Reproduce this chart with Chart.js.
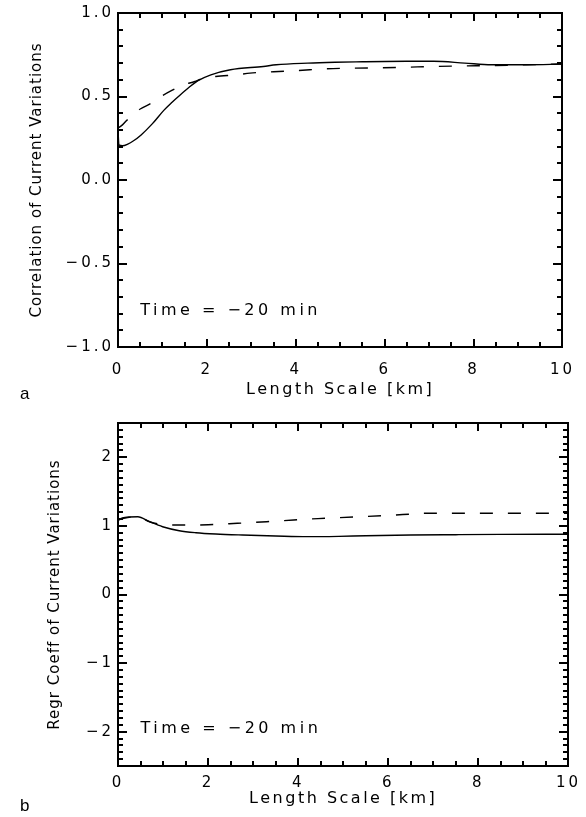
<!DOCTYPE html>
<html><head><meta charset="utf-8">
<script src="https://cdn.jsdelivr.net/npm/chart.js@4.4.1/dist/chart.umd.min.js"></script>
<style>
html,body{margin:0;padding:0;background:#fff;}
#wrap{position:relative;width:586px;height:817px;overflow:hidden;}
.box{position:absolute;left:0;width:586px;}
</style></head><body>
<div id="wrap">
<div class="box" style="top:0;height:405px"><canvas id="ca" width="586" height="405"></canvas></div>
<div class="box" style="top:405px;height:412px"><canvas id="cb" width="586" height="412"></canvas></div>
</div>
<script>
// ---- tick values and labels ----
const xTickValues = [0, 2, 4, 6, 8, 10];
const xTickLabels = ['0', '2', '4', '6', '8', '10'];
const corrTickValues = [-1, -0.5, 0, 0.5, 1];
const corrTickLabels = ['\u22121.0', '\u22120.5', '0.0', '0.5', '1.0'];
const regrTickValues = [-2, -1, 0, 1, 2];
const regrTickLabels = ['\u22122', '\u22121', '0', '1', '2'];
const xMinorStep = 0.5;
const yMinorStep = 0.1;

// ---- panel a: correlation ----
const corrSolidX = [0, 0.02, 0.1, 0.22, 0.35, 0.52, 0.77, 1.03, 1.21, 1.36, 1.6, 1.8, 2.09, 2.53, 3.27, 3.56, 4.27, 4.88, 5.5, 6.0, 6.5, 7.1, 7.8, 8.4, 9.2, 10];
const corrSolidY = [0.30, 0.21, 0.205, 0.215, 0.235, 0.27, 0.336, 0.417, 0.464, 0.50, 0.555, 0.595, 0.63, 0.66, 0.68, 0.69, 0.70, 0.705, 0.708, 0.71, 0.711, 0.711, 0.70, 0.69, 0.69, 0.694];
const corrDashX = [0, 0.1, 0.26, 0.5, 0.75, 1.0, 1.2, 1.47, 1.73, 1.87, 2.2, 2.68, 2.97, 3.5, 4.07, 4.69, 5.33, 5.94, 6.56, 7.2, 7.81, 8.44, 9.07, 9.75, 10];
const corrDashY = [0.31, 0.33, 0.375, 0.425, 0.46, 0.505, 0.535, 0.57, 0.59, 0.605, 0.62, 0.63, 0.64, 0.648, 0.656, 0.666, 0.67, 0.672, 0.676, 0.68, 0.683, 0.685, 0.689, 0.693, 0.695];

// ---- panel b: regression coefficient ----
const regrSolidX = [0, 0.1, 0.25, 0.44, 0.7, 0.99, 1.36, 1.73, 2.17, 2.76, 3.5, 4.2, 4.9, 5.5, 6.5, 7.5, 8.5, 10];
const regrSolidY = [1.086, 1.115, 1.13, 1.134, 1.061, 0.988, 0.93, 0.901, 0.882, 0.867, 0.853, 0.843, 0.848, 0.857, 0.867, 0.872, 0.876, 0.878];
const regrDashX = [0, 0.15, 0.44, 0.7, 0.9, 1.3, 1.6, 2.0, 2.65, 3.3, 3.9, 4.1, 4.6, 5.25, 5.85, 6.45, 6.7, 7.5, 8.5, 10];
const regrDashY = [1.086, 1.115, 1.134, 1.061, 1.028, 1.013, 1.013, 1.017, 1.038, 1.061, 1.086, 1.096, 1.111, 1.13, 1.149, 1.169, 1.184, 1.184, 1.184, 1.184];

const xTitle = 'Length Scale [km]';
const corrTitle = 'Correlation of Current Variations';
const regrTitle = 'Regr Coeff of Current Variations';
const timeNote = 'Time = \u221220 min';

Chart.defaults.font.family = "'DejaVu Sans', sans-serif";
Chart.defaults.color = '#000';

const SPACING = {ticks: '3px', xTitle: '2.5px', yTitle: '1px'};

const spacingPlugin = {
  id: 'spacing',
  afterLayout(chart) {
    Object.values(chart.scales).forEach(s => {
      if (s._spWrapped) return;
      s._spWrapped = true;
      const dl = s.drawLabels.bind(s), dt = s.drawTitle.bind(s);
      s.drawLabels = (a) => { const c = s.ctx; c.letterSpacing = SPACING.ticks; dl(a); c.letterSpacing = '0px'; };
      s.drawTitle = (a) => { const c = s.ctx; c.letterSpacing = s.axis === 'x' ? SPACING.xTitle : SPACING.yTitle; dt(a); c.letterSpacing = '0px'; };
    });
  }
};

function makeFramePlugin(cfg) {
  return {
    id: 'frame',
    afterDraw(chart) {
      const ctx = chart.ctx, a = chart.chartArea;
      const xs = chart.scales.x, ys = chart.scales.y;
      ctx.save();
      ctx.fillStyle = '#000';
      const L = Math.round(a.left), R = Math.round(a.right), T = Math.round(a.top), B = Math.round(a.bottom);
      ctx.fillRect(L - 1, T - 1, R - L + 2, 2);
      ctx.fillRect(L - 1, B - 1, R - L + 2, 2);
      ctx.fillRect(L - 1, T - 1, 2, B - T + 2);
      ctx.fillRect(R - 1, T - 1, 2, B - T + 2);
      const nx = Math.round((cfg.xMax - cfg.xMin) / xMinorStep);
      for (let i = 0; i <= nx; i++) {
        const v = cfg.xMin + i * xMinorStep;
        const px = Math.round(xs.getPixelForValue(v));
        const major = xTickValues.some(m => Math.abs(m - v) < 1e-6);
        const len = major ? 8 : 5;
        ctx.fillRect(px - 1, B - len, 2, len);
        ctx.fillRect(px - 1, T, 2, len);
      }
      const ny = Math.round((cfg.yMax - cfg.yMin) / yMinorStep);
      for (let i = 0; i <= ny; i++) {
        const v = cfg.yMin + i * yMinorStep;
        const py = Math.round(ys.getPixelForValue(v));
        const major = cfg.yTicks.some(m => Math.abs(m - v) < 1e-6);
        const len = major ? 9 : 5;
        ctx.fillRect(L, py - 1, len, 2);
        ctx.fillRect(R - len, py - 1, len, 2);
      }
      ctx.letterSpacing = '3.5px';
      ctx.font = "16px 'DejaVu Sans'";
      ctx.textAlign = 'left';
      ctx.textBaseline = 'middle';
      ctx.fillText(timeNote, xs.getPixelForValue(cfg.noteAt[0]), ys.getPixelForValue(cfg.noteAt[1]));
      ctx.letterSpacing = '0px';
      ctx.font = "17px 'Liberation Sans'";
      ctx.fillText(cfg.panel, cfg.panelPos[0], cfg.panelPos[1]);
      ctx.restore();
    }
  };
}

function makeChart(id, H, areaBottom, cfg) {
  const toXY = (xv, yv) => xv.map((v, i) => ({x: v, y: yv[i]}));
  return new Chart(document.getElementById(id), {
    type: 'line',
    data: {
      datasets: [
        {data: toXY(cfg.solidX, cfg.solidY), borderColor: '#000', borderWidth: 1.4, pointRadius: 0, cubicInterpolationMode: 'monotone', fill: false},
        {data: toXY(cfg.dashX, cfg.dashY), borderColor: '#000', borderWidth: 1.4, borderDash: [13, 15], pointRadius: 0, cubicInterpolationMode: 'monotone', fill: false}
      ]
    },
    options: {
      responsive: false, animation: false, devicePixelRatio: 1,
      layout: {padding: {top: cfg.top, right: 13, left: 0, bottom: 0}},
      plugins: {legend: {display: false}, tooltip: {enabled: false}},
      scales: {
        x: {
          type: 'linear', position: 'bottom', min: cfg.xMin, max: cfg.xMax,
          afterBuildTicks: s => { s.ticks = xTickValues.map(v => ({value: v})); },
          afterFit: s => { s.height = H - areaBottom; },
          grid: {display: false, drawTicks: false}, border: {display: false},
          ticks: {font: {size: 15}, padding: cfg.xPad, maxRotation: 0, autoSkip: false,
                  callback: v => xTickLabels[xTickValues.indexOf(v)]},
          title: {display: true, text: xTitle, font: {size: 16}, padding: {top: 0, bottom: cfg.xTitlePad}}
        },
        y: {
          type: 'linear', position: 'left', min: cfg.yMin, max: cfg.yMax,
          afterBuildTicks: s => { s.ticks = cfg.yTicks.map(v => ({value: v})); },
          afterFit: s => { s.width = 118; },
          grid: {display: false, drawTicks: false}, border: {display: false},
          ticks: {font: {size: 15}, padding: 4, autoSkip: false,
                  callback: v => cfg.yLabels[cfg.yTicks.indexOf(v)]},
          title: {display: true, text: cfg.yTitle, font: {size: 15}, padding: {top: cfg.yTitlePad, bottom: 0}}
        }
      }
    },
    plugins: [spacingPlugin, makeFramePlugin(cfg)]
  });
}

makeChart('ca', 405, 347, {
  solidX: corrSolidX, solidY: corrSolidY, dashX: corrDashX, dashY: corrDashY,
  top: 10, xMin: 0, xMax: 10, yMin: -1, yMax: 1, yTicks: corrTickValues, yLabels: corrTickLabels,
  yTitle: corrTitle, yTitlePad: 28, xPad: 14, xTitlePad: 6,
  noteAt: [0.5, -0.786], panel: 'a', panelPos: [20, 394]
});
makeChart('cb', 412, 361, {
  solidX: regrSolidX, solidY: regrSolidY, dashX: regrDashX, dashY: regrDashY,
  top: 18, xMin: 0, xMax: 10, yMin: -2.5, yMax: 2.5, yTicks: regrTickValues, yLabels: regrTickLabels,
  yTitle: regrTitle, yTitlePad: 46, xPad: 8, xTitlePad: 9,
  noteAt: [0.5, -1.96], panel: 'b', panelPos: [20, 401]
});
</script>
</body></html>
